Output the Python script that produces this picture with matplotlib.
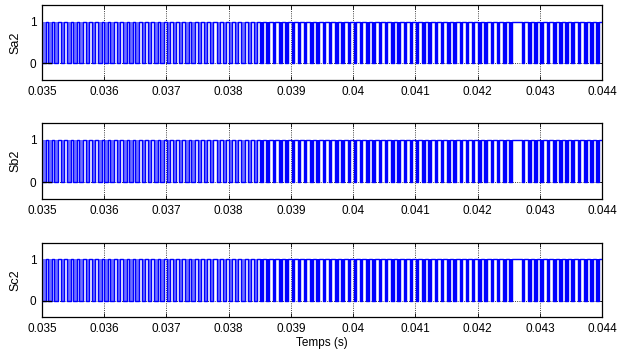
import matplotlib.pyplot as plt

plt.rcParams['font.family'] = ['Liberation Sans', 'DejaVu Sans']
plt.rcParams['font.size'] = 8.5

# centre of each switching pulse (ms), one per 0.1 ms carrier period
pulse_centres_ms = [
    35.03, 35.13, 35.23, 35.33, 35.43, 35.53, 35.63, 35.73, 35.83, 35.93,
    36.03, 36.13, 36.23, 36.33, 36.43, 36.53, 36.63, 36.73, 36.83, 36.93,
    37.03, 37.13, 37.23, 37.33, 37.43, 37.53, 37.63, 37.73, 37.83, 37.93,
    38.03, 38.13, 38.23, 38.33, 38.43, 38.53, 38.63, 38.73, 38.83, 38.93,
    39.03, 39.13, 39.23, 39.33, 39.43, 39.53, 39.63, 39.73, 39.83, 39.93,
    40.03, 40.13, 40.23, 40.33, 40.43, 40.53, 40.63, 40.73, 40.83, 40.93,
    41.03, 41.13, 41.23, 41.33, 41.43, 41.53, 41.63, 41.73, 41.83, 41.93,
    42.03, 42.13, 42.23, 42.33, 42.43, 42.53, 42.63, 42.73, 42.83, 42.93,
    43.03, 43.13, 43.23, 43.33, 43.43, 43.53, 43.63, 43.73, 43.83, 43.93,
]

# width of the low pulse in each period (ms), 0 = no switching
sa2_widths_ms = [
    0.08, 0.06, 0.06, 0.06, 0.06, 0.06, 0.06, 0.06, 0.06, 0.06,
    0.06, 0.06, 0.06, 0.06, 0.06, 0.055, 0.055, 0.055, 0.055, 0.055,
    0.055, 0.055, 0.055, 0.055, 0.055, 0.05, 0.05, 0.05, 0.05, 0.05,
    0.05, 0.05, 0.05, 0.05, 0.05, 0.045, 0.045, 0.045, 0.045, 0.045,
    0.04, 0.04, 0.04, 0.04, 0.04, 0.04, 0.04, 0.04, 0.04, 0.04,
    0.04, 0.04, 0.04, 0.04, 0.04, 0.04, 0.04, 0.04, 0.04, 0.04,
    0.04, 0.04, 0.04, 0.04, 0.04, 0.04, 0.04, 0.04, 0.04, 0.04,
    0.04, 0.04, 0.04, 0.04, 0.04, 0.04, 0.0, 0.045, 0.045, 0.045,
    0.045, 0.045, 0.045, 0.045, 0.045, 0.045, 0.045, 0.045, 0.045, 0.045,
]
sb2_widths_ms = list(sa2_widths_ms)
sc2_widths_ms = list(sa2_widths_ms)

signal_names = ['Sa2', 'Sb2', 'Sc2']
signal_widths = [sa2_widths_ms, sb2_widths_ms, sc2_widths_ms]

# short black trace at the start of the window
start_trace_t = [0.035, 0.03515]
start_trace_v = [0, 0]

t_start, t_end = 0.035, 0.044
x_ticks = [0.035, 0.036, 0.037, 0.038, 0.039, 0.04, 0.041, 0.042, 0.043, 0.044]
x_tick_labels = ['0.035', '0.036', '0.037', '0.038', '0.039', '0.04',
                 '0.041', '0.042', '0.043', '0.044']
y_ticks = [0, 1]

# axes boxes in figure fractions: left, bottom, width, height
axes_boxes = [
    [0.0661, 0.7765, 0.882, 0.2095],
    [0.0661, 0.4441, 0.882, 0.2123],
    [0.0661, 0.1145, 0.882, 0.2067],
]


def build_waveform(centres_ms, widths_ms):
    """Step waveform that sits at 1 and drops to 0 during each pulse."""
    t, v, spans = [], [], []
    for c, w in zip(centres_ms, widths_ms):
        if w <= 0:
            continue
        a = max((c - w / 2) / 1000, t_start)
        b = min((c + w / 2) / 1000, t_end)
        t += [a, a, b, b]
        v += [1, 0, 0, 1]
        spans.append((a, b, w))
    if t[0] > t_start:
        t = [t_start] + t
        v = [1] + v
    else:
        v[0] = 0
    t.append(t_end)
    v.append(1)
    return t, v, spans


fig = plt.figure(figsize=(6.35, 3.58), dpi=100)

for i, (name, widths) in enumerate(zip(signal_names, signal_widths)):
    ax = fig.add_axes(axes_boxes[i])
    t, v, spans = build_waveform(pulse_centres_ms, widths)

    # narrow pulses blur into solid bars, wider ones keep a lighter core
    for a, b, w in spans:
        shade = 'blue' if w <= 0.045 else '#7070ff'
        ax.fill_between([a, b], 0, 1, color=shade, lw=0, zorder=2)
    ax.plot(t, v, color='blue', lw=1.0, zorder=3)
    ax.plot(start_trace_t, start_trace_v, color='black', lw=0.9, zorder=4)

    ax.set_xlim(t_start, t_end)
    ax.set_ylim(-0.4, 1.4)
    ax.set_xticks(x_ticks)
    ax.set_xticklabels(x_tick_labels)
    ax.set_yticks(y_ticks)
    ax.set_ylabel(name, fontsize=9, labelpad=6)
    ax.grid(True, color='black', linestyle=':', linewidth=0.6)
    ax.tick_params(direction='in', length=3, width=0.6, top=True, right=True,
                   labelsize=8.5, pad=4)
    for sp in ax.spines.values():
        sp.set_linewidth(0.9)

    if i == 2:
        ax.set_xlabel('Temps (s)', fontsize=8.5, labelpad=2)

fig.savefig('out.png', dpi=100)
